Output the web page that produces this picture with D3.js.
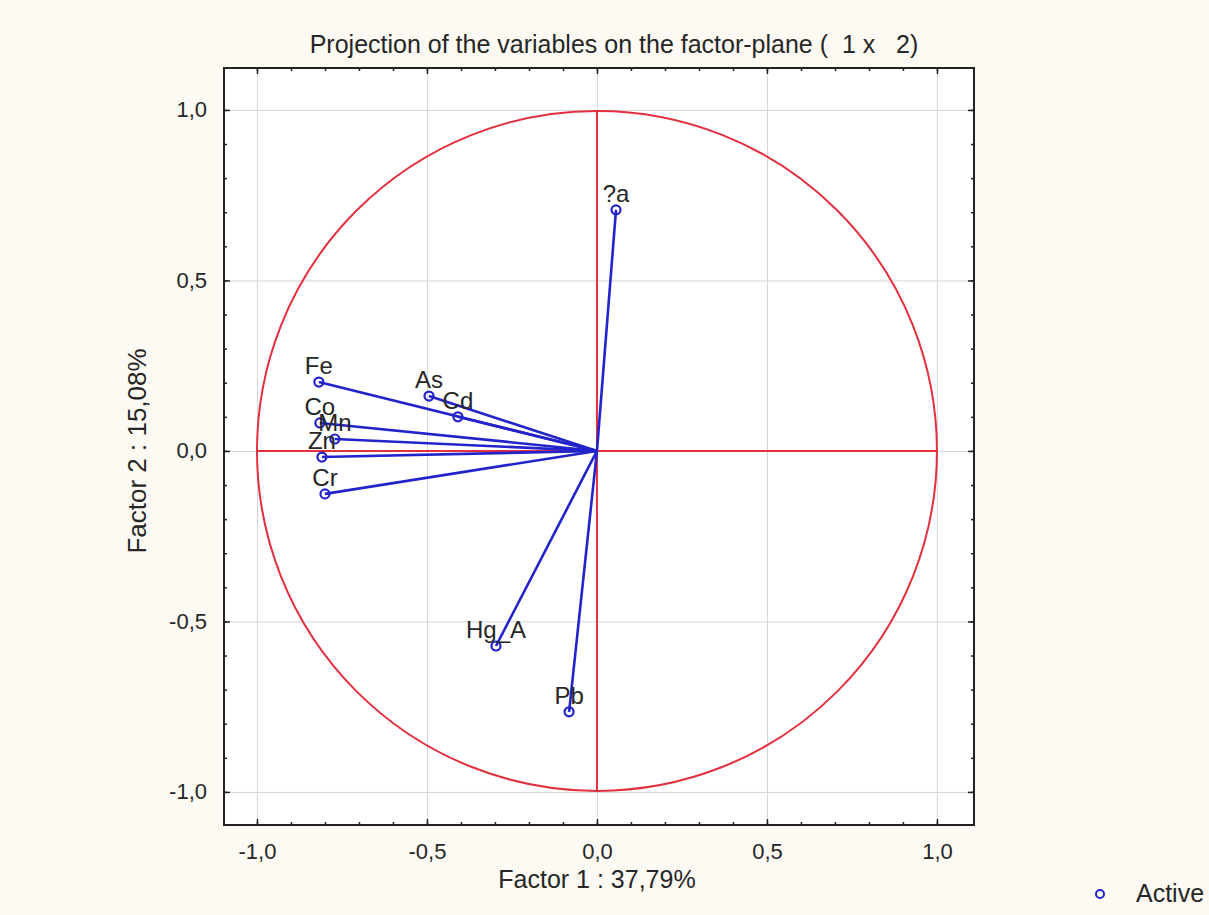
<!DOCTYPE html>
<html>
<head>
<meta charset="utf-8">
<script src="https://cdn.jsdelivr.net/npm/d3@7"></script>
<style>
  body { margin: 0; background: #fdfaf3; }
  text { font-family: "Liberation Sans", Arial, sans-serif; fill: #262626; white-space: pre; }
</style>
</head>
<body>
<div id="vis"></div>
<script>
const FRAME_WIDTH = 1209;
const FRAME_HEIGHT = 915;
const PLOT = {left: 224, right: 974, top: 68, bottom: 825};

// variables and their factor loadings
const VARIABLES = ["Fe", "As", "Cd", "Co", "Mn", "Zn", "Cr", "?a", "Hg_A", "Pb"];
const FACTOR1 = [-0.818, -0.494, -0.409, -0.815, -0.771, -0.809, -0.800, 0.056, -0.297, -0.082];
const FACTOR2 = [0.202, 0.161, 0.100, 0.082, 0.035, -0.018, -0.126, 0.707, -0.572, -0.765];

const MAJOR_TICKS = [-1.0, -0.5, 0.0, 0.5, 1.0];
const TICK_LABELS = ["-1,0", "-0,5", "0,0", "0,5", "1,0"];
const MINOR_TICKS = d3.range(-10, 11).map(d => d / 10);

const RED = "#e2303f";
const BLUE = "#2323cc";

const FRAME = d3.select("#vis")
  .append("svg")
  .attr("width", FRAME_WIDTH)
  .attr("height", FRAME_HEIGHT);

const X_SCALE = d3.scaleLinear().domain([-1.097, 1.109]).range([PLOT.left, PLOT.right]);
const Y_SCALE = d3.scaleLinear().domain([-1.097, 1.123]).range([PLOT.bottom, PLOT.top]);

// plot background
FRAME.append("rect")
  .attr("x", PLOT.left).attr("y", PLOT.top)
  .attr("width", PLOT.right - PLOT.left).attr("height", PLOT.bottom - PLOT.top)
  .attr("fill", "#fff");

// grid
FRAME.append("g")
  .attr("transform", "translate(0," + PLOT.bottom + ")")
  .call(d3.axisBottom(X_SCALE).tickValues(MAJOR_TICKS).tickSize(-(PLOT.bottom - PLOT.top)).tickFormat(""))
  .call(g => g.select(".domain").remove())
  .call(g => g.selectAll("line").attr("stroke", "#d6d6d6"));
FRAME.append("g")
  .attr("transform", "translate(" + PLOT.left + ",0)")
  .call(d3.axisLeft(Y_SCALE).tickValues(MAJOR_TICKS).tickSize(-(PLOT.right - PLOT.left)).tickFormat(""))
  .call(g => g.select(".domain").remove())
  .call(g => g.selectAll("line").attr("stroke", "#d6d6d6"));

// unit circle and red axes
FRAME.append("circle")
  .attr("cx", X_SCALE(0)).attr("cy", Y_SCALE(0))
  .attr("r", X_SCALE(1) - X_SCALE(0))
  .attr("fill", "none").attr("stroke", RED).attr("stroke-width", 2);
FRAME.append("line")
  .attr("x1", X_SCALE(-1)).attr("x2", X_SCALE(1))
  .attr("y1", Y_SCALE(0)).attr("y2", Y_SCALE(0))
  .attr("stroke", RED).attr("stroke-width", 2);
FRAME.append("line")
  .attr("x1", X_SCALE(0)).attr("x2", X_SCALE(0))
  .attr("y1", Y_SCALE(1)).attr("y2", Y_SCALE(-1))
  .attr("stroke", RED).attr("stroke-width", 2);

const data = VARIABLES.map((v, i) => ({name: v, x: FACTOR1[i], y: FACTOR2[i]}));

// vectors
FRAME.selectAll(".vec")
  .data(data)
  .enter().append("line")
  .attr("class", "vec")
  .attr("x1", X_SCALE(0)).attr("y1", Y_SCALE(0))
  .attr("x2", d => X_SCALE(d.x)).attr("y2", d => Y_SCALE(d.y))
  .attr("stroke", BLUE).attr("stroke-width", 2.6);

FRAME.selectAll(".pt")
  .data(data)
  .enter().append("circle")
  .attr("class", "pt")
  .attr("cx", d => X_SCALE(d.x)).attr("cy", d => Y_SCALE(d.y))
  .attr("r", 4.5)
  .attr("fill", "none").attr("stroke", BLUE).attr("stroke-width", 2.2);

FRAME.selectAll(".lbl")
  .data(data)
  .enter().append("text")
  .attr("class", "lbl")
  .attr("x", d => X_SCALE(d.x)).attr("y", d => Y_SCALE(d.y) - 8)
  .attr("text-anchor", "middle")
  .attr("font-size", 24)
  .text(d => d.name);

// frame border
FRAME.append("rect")
  .attr("x", PLOT.left).attr("y", PLOT.top)
  .attr("width", PLOT.right - PLOT.left).attr("height", PLOT.bottom - PLOT.top)
  .attr("fill", "none").attr("stroke", "#222").attr("stroke-width", 2);

// inward ticks on all four sides
function ticks(axisFn, pos, size, values) {
  const horiz = (axisFn === d3.axisTop || axisFn === d3.axisBottom);
  const scale = horiz ? X_SCALE : Y_SCALE;
  FRAME.append("g")
    .attr("transform", horiz ? "translate(0," + pos + ")" : "translate(" + pos + ",0)")
    .call(axisFn(scale).tickValues(values).tickSize(size).tickFormat(""))
    .call(g => g.select(".domain").remove())
    .call(g => g.selectAll("line").attr("stroke", "#222").attr("stroke-width", 1.5));
}
ticks(d3.axisBottom, PLOT.bottom, -3, MINOR_TICKS);
ticks(d3.axisBottom, PLOT.bottom, -6, MAJOR_TICKS);
ticks(d3.axisTop, PLOT.top, -3, MINOR_TICKS);
ticks(d3.axisTop, PLOT.top, -6, MAJOR_TICKS);
ticks(d3.axisLeft, PLOT.left, -3, MINOR_TICKS);
ticks(d3.axisLeft, PLOT.left, -6, MAJOR_TICKS);
ticks(d3.axisRight, PLOT.right, -3, MINOR_TICKS);
ticks(d3.axisRight, PLOT.right, -6, MAJOR_TICKS);

// tick labels
FRAME.append("g")
  .attr("transform", "translate(0," + PLOT.bottom + ")")
  .call(d3.axisBottom(X_SCALE).tickValues(MAJOR_TICKS).tickSize(0).tickPadding(18)
    .tickFormat((d, i) => TICK_LABELS[i]))
  .call(g => g.select(".domain").remove())
  .call(g => g.selectAll("text").attr("font-size", 22).attr("font-family", null).attr("fill", "#262626"));
FRAME.append("g")
  .attr("transform", "translate(" + PLOT.left + ",0)")
  .call(d3.axisLeft(Y_SCALE).tickValues(MAJOR_TICKS).tickSize(0).tickPadding(17)
    .tickFormat((d, i) => TICK_LABELS[i]))
  .call(g => g.select(".domain").remove())
  .call(g => g.selectAll("text").attr("font-size", 22).attr("font-family", null).attr("fill", "#262626"));

// titles
FRAME.append("text")
  .attr("x", 614).attr("y", 53)
  .attr("text-anchor", "middle").attr("font-size", 25)
  .text("Projection of the variables on the factor-plane (  1 x   2)");
FRAME.append("text")
  .attr("x", 597).attr("y", 888)
  .attr("text-anchor", "middle").attr("font-size", 25)
  .text("Factor 1 : 37,79%");
FRAME.append("text")
  .attr("transform", "translate(146,451) rotate(-90)")
  .attr("text-anchor", "middle").attr("font-size", 26)
  .text("Factor 2 : 15,08%");

// legend
FRAME.append("circle")
  .attr("cx", 1100).attr("cy", 894).attr("r", 4)
  .attr("fill", "none").attr("stroke", BLUE).attr("stroke-width", 2);
FRAME.append("text")
  .attr("x", 1136).attr("y", 902).attr("font-size", 25)
  .text("Active");
</script>
</body>
</html>
